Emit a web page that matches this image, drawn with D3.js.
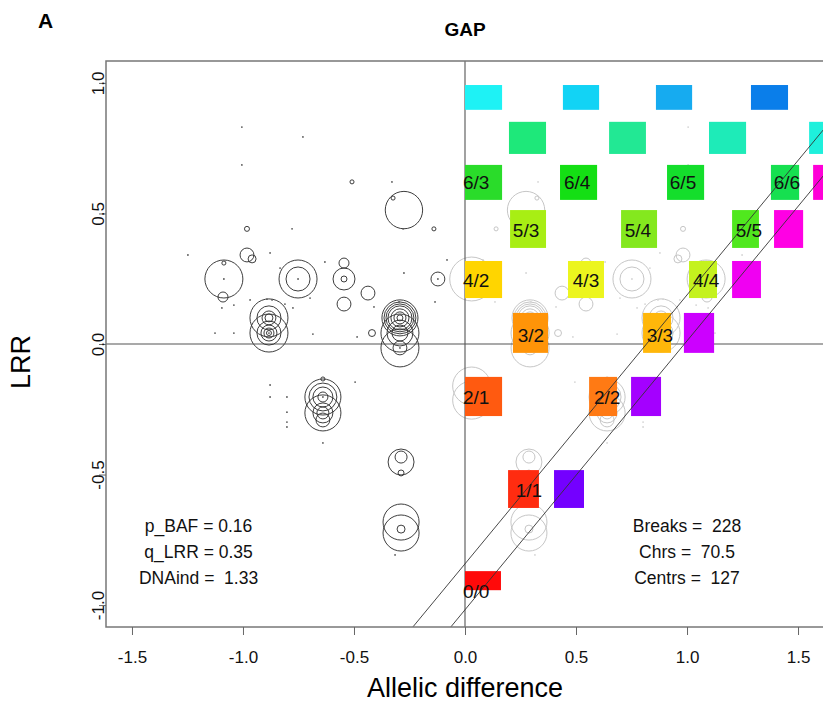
<!DOCTYPE html>
<html>
<head>
<meta charset="utf-8">
<script src="https://cdn.jsdelivr.net/npm/d3@7"></script>
<style>
  html, body { margin: 0; padding: 0; background: #fff; }
  svg { display: block; font-family: "Liberation Sans", Arial, sans-serif; }
  text { white-space: pre; }
</style>
</head>
<body>
<svg id="chart" width="823" height="702"></svg>
<script>
// Segments: [allelic difference, LRR, segment length (Mb)]
const segments = [
  [-1.005, 0.831, 0.4], [-0.730, 0.793, 0.4], [-1.005, 0.686, 0.4],
  [-0.509, 0.621, 1.7], [-0.329, 0.621, 0.4], [-0.324, 0.559, 1.7],
  [-0.275, 0.513, 145], [-0.279, 0.441, 0.4], [-0.140, 0.441, 1.7],
  [-0.982, 0.441, 2.6], [-0.779, 0.441, 0.4],
  [-0.982, 0.341, 20], [-0.959, 0.326, 6.6], [-1.248, 0.341, 0.4],
  [-0.878, 0.349, 0.4], [-1.086, 0.310, 1.7],
  [-1.086, 0.249, 150], [-1.086, 0.249, 0.4], [-1.090, 0.180, 10.4],
  [-0.752, 0.249, 150], [-0.752, 0.249, 60], [-0.752, 0.249, 0.6],
  [-0.545, 0.310, 10.4], [-0.545, 0.249, 50], [-0.545, 0.249, 3.7],
  [-0.437, 0.195, 20], [-0.545, 0.153, 20],
  [-0.122, 0.249, 20], [-0.122, 0.249, 0.4],
  [-0.883, 0.100, 150], [-0.883, 0.100, 60], [-0.883, 0.100, 20], [-0.883, 0.100, 6.6],
  [-0.883, 0.042, 150], [-0.883, 0.042, 60], [-0.883, 0.042, 26.6], [-0.883, 0.042, 10.4],
  [-0.883, 0.042, 2.6], [-0.883, 0.042, 0.8],
  [-1.041, 0.042, 0.6], [-1.126, 0.042, 0.4], [-0.685, 0.038, 0.4],
  [-0.293, 0.100, 135], [-0.293, 0.100, 106], [-0.293, 0.100, 81], [-0.293, 0.100, 60],
  [-0.293, 0.100, 34], [-0.293, 0.100, 15], [-0.293, 0.100, 3.7],
  [-0.293, 0.042, 150], [-0.293, 0.042, 70], [-0.293, 0.042, 26.6],
  [-0.293, -0.015, 150], [-0.293, -0.015, 20], [-0.293, -0.015, 0.6],
  [-0.419, 0.042, 5], [-0.486, 0.027, 0.4],
  [-0.297, 0.161, 0.4], [-0.135, 0.161, 0.4], [-0.275, 0.272, 0.4], [-0.081, 0.322, 0.4],
  [-0.968, 0.169, 0.6], [-0.892, 0.172, 0.4], [-0.869, 0.169, 0.4], [-0.811, 0.153, 0.4],
  [-0.775, 0.138, 0.4], [-0.698, 0.176, 0.4], [-1.095, 0.138, 0.4], [-1.041, 0.149, 0.4],
  [-0.410, 0.142, 0.4], [-0.631, 0.314, 0.4], [-0.833, 0.291, 0.4],
  [-0.878, -0.157, 0.4], [-0.640, -0.134, 1.7], [-0.495, -0.146, 0.4],
  [-0.878, -0.203, 0.4], [-0.802, -0.203, 0.4],
  [-0.640, -0.203, 135], [-0.640, -0.203, 81], [-0.640, -0.203, 41.5],
  [-0.640, -0.203, 10.4], [-0.640, -0.203, 0.6],
  [-0.640, -0.264, 135], [-0.640, -0.264, 41.5], [-0.640, -0.264, 15],
  [-0.640, -0.291, 20],
  [-0.802, -0.261, 0.6], [-0.802, -0.299, 0.4], [-0.802, -0.318, 0.4], [-0.640, -0.379, 0.4],
  [-0.288, -0.452, 70], [-0.288, -0.433, 15], [-0.288, -0.494, 3.7],
  [-0.288, -0.682, 135], [-0.288, -0.724, 135], [-0.288, -0.709, 6.6],
  [-0.315, -0.808, 0.4]
];

// Balanced segments that sit on the zero line (grey only)
const nearZeroSegments = [
  [0.03, -0.161, 150], [0.03, -0.215, 150], [0.03, 0.249, 200]
];

// Copy-number states: label, allelic-difference span, LRR span, colour
const stateNames = [
  "", "", "", "",
  "", "", "", "",
  "6/3", "6/4", "6/5", "6/6", "",
  "5/3", "5/4", "5/5", "",
  "4/2", "4/3", "4/4", "",
  "3/2", "3/3", "",
  "2/1", "2/2", "",
  "1/1", "",
  "0/0"
];
const stateADlo = [
  0, 0.441, 0.860, 1.288,
  0.198, 0.649, 1.099, 1.550,
  0, 0.428, 0.910, 1.378, 1.568,
  0.203, 0.703, 1.203, 1.392,
  0, 0.464, 1.009, 1.203,
  0.216, 0.802, 0.986,
  0, 0.559, 0.748,
  0.194, 0.401,
  0
];
const stateADhi = [
  0.167, 0.604, 1.023, 1.455,
  0.365, 0.815, 1.266, 1.717,
  0.167, 0.595, 1.077, 1.505, 1.700,
  0.365, 0.865, 1.324, 1.523,
  0.167, 0.626, 1.135, 1.333,
  0.374, 0.928, 1.122,
  0.167, 0.685, 0.883,
  0.333, 0.536,
  0.162
];
const stateLRRlo = [
  0.897, 0.897, 0.897, 0.897,
  0.728, 0.728, 0.728, 0.728,
  0.552, 0.552, 0.552, 0.552, 0.552,
  0.368, 0.368, 0.368, 0.368,
  0.176, 0.176, 0.176, 0.176,
  -0.034, -0.034, -0.034,
  -0.276, -0.276, -0.276,
  -0.628, -0.628,
  -0.943
];
const stateLRRhi = [
  0.992, 0.992, 0.992, 0.992,
  0.851, 0.851, 0.851, 0.851,
  0.686, 0.686, 0.686, 0.686, 0.686,
  0.513, 0.513, 0.513, 0.513,
  0.318, 0.318, 0.318, 0.318,
  0.119, 0.119, 0.119,
  -0.126, -0.126, -0.126,
  -0.483, -0.483,
  -0.870
];
const stateColors = [
  "#1ef2f5", "#12d3f5", "#16abf0", "#0a7eea",
  "#1ee87a", "#22e894", "#1eebb8", "#1ef0dc",
  "#2adc2a", "#14df14", "#14de2c", "#16e050", "#ff00d8",
  "#a8ee14", "#84e81e", "#50e81e", "#ff00e4",
  "#ffd500", "#ecf51e", "#c4f21e", "#f000f2",
  "#ff9408", "#ffb70a", "#cc00ff",
  "#ff5a10", "#ff7a14", "#a400ff",
  "#ff2c10", "#7400ff",
  "#ff0a0a"
];
// Label anchor of each labelled state
const labelNames = ["6/3", "6/4", "6/5", "6/6", "5/3", "5/4", "5/5", "4/2", "4/3", "4/4",
                    "3/2", "3/3", "2/1", "2/2", "1/1", "0/0"];
const labelAD  = [0.050, 0.505, 0.982, 1.450, 0.275, 0.779, 1.279, 0.050, 0.545, 1.086,
                  0.297, 0.878, 0.050, 0.640, 0.288, 0.050];
const labelLRR = [0.621, 0.621, 0.621, 0.621, 0.437, 0.437, 0.437, 0.245, 0.245, 0.245,
                  0.034, 0.034, -0.203, -0.203, -0.559, -0.946];

// Reference lines (slope, intercept)
const refLines = [[1.03, -0.842], [1.03, -1.018]];

const xTicks = [-1.5, -1.0, -0.5, 0.0, 0.5, 1.0, 1.5];
const yTicks = [-1.0, -0.5, 0.0, 0.5, 1.0];

const statsLeft = ["p_BAF = 0.16", "q_LRR = 0.35", "DNAind =  1.33"];
const statsRight = ["Breaks =  228", "Chrs =  70.5", "Centrs =  127"];

// ---------------------------------------------------------------
const svg = d3.select("#chart");
const box = { left: 106, right: 824, top: 61, bottom: 627 };

const x = d3.scaleLinear().domain([-1.617, 1.617]).range([box.left, box.right]);
const y = d3.scaleLinear().domain([-1.084, 1.084]).range([box.bottom, box.top]);
const r = d3.scaleSqrt().domain([0, 150]).range([0, 19]);

svg.append("defs").append("clipPath").attr("id", "plotClip")
  .append("rect")
  .attr("x", box.left).attr("y", box.top)
  .attr("width", box.right - box.left).attr("height", box.bottom - box.top);

const plot = svg.append("g").attr("clip-path", "url(#plotClip)");

// Mirrored (grey) segments on the positive side
const greySegs = segments.map(d => [-d[0], d[1], d[2]]).concat(nearZeroSegments);
function drawSegs(data, stroke, dotFill, width) {
  plot.append("g").selectAll("circle")
    .data(data)
    .join("circle")
    .attr("cx", d => x(d[0]))
    .attr("cy", d => y(d[1]))
    .attr("r", d => d[2] < 1 ? 0.9 : r(d[2]))
    .attr("fill", d => d[2] < 1 ? dotFill : "none")
    .attr("stroke", d => d[2] < 1 ? "none" : stroke)
    .attr("stroke-width", width);
}
drawSegs(greySegs, "#c6c6c6", "#d4d4d4", 1);

// Zero lines
plot.append("line")
  .attr("x1", x(0)).attr("x2", x(0)).attr("y1", box.top).attr("y2", box.bottom)
  .attr("stroke", "#555").attr("stroke-width", 1.1);
plot.append("line")
  .attr("x1", box.left).attr("x2", box.right).attr("y1", y(0)).attr("y2", y(0))
  .attr("stroke", "#555").attr("stroke-width", 1.1);

// Copy-number state rectangles
plot.append("g").selectAll("rect")
  .data(stateNames.map((n, i) => i))
  .join("rect")
  .attr("x", i => x(stateADlo[i]))
  .attr("y", i => y(stateLRRhi[i]))
  .attr("width", i => x(stateADhi[i]) - x(stateADlo[i]))
  .attr("height", i => y(stateLRRlo[i]) - y(stateLRRhi[i]))
  .attr("fill", i => stateColors[i]);

// Diagonal reference lines
const [xa, xb] = x.domain();
plot.append("g").selectAll("line")
  .data(refLines)
  .join("line")
  .attr("x1", x(xa)).attr("y1", d => y(d[0] * xa + d[1]))
  .attr("x2", x(xb)).attr("y2", d => y(d[0] * xb + d[1]))
  .attr("stroke", "#333").attr("stroke-width", 0.9);

// Observed segments (black)
drawSegs(segments, "#333", "#555", 0.95);

// State labels
plot.append("g").selectAll("text")
  .data(labelNames.map((n, i) => i))
  .join("text")
  .attr("x", i => x(labelAD[i]))
  .attr("y", i => y(labelLRR[i]))
  .attr("dy", "0.36em")
  .attr("text-anchor", "middle")
  .attr("font-size", 19)
  .attr("fill", "#111")
  .text(i => labelNames[i]);

// Plot frame
svg.append("rect")
  .attr("x", box.left).attr("y", box.top)
  .attr("width", box.right - box.left).attr("height", box.bottom - box.top)
  .attr("fill", "none").attr("stroke", "#777").attr("stroke-width", 1.5);

// Axes
const xAxis = svg.append("g")
  .attr("transform", `translate(0,${box.bottom})`)
  .call(d3.axisBottom(x).tickValues(xTicks).tickSize(8).tickPadding(16)
    .tickFormat(d => d.toFixed(1)));
xAxis.select(".domain").remove();
xAxis.selectAll("line").attr("stroke", "#666");
xAxis.selectAll("text").attr("font-size", 17).attr("font-family", "Liberation Sans, Arial, sans-serif").attr("fill", "#111");

const yAxis = svg.append("g")
  .attr("transform", `translate(${box.left},0)`)
  .call(d3.axisLeft(y).tickValues(yTicks).tickSize(7).tickFormat(d => d.toFixed(1)));
yAxis.select(".domain").remove();
yAxis.selectAll("line").attr("stroke", "#666");
yAxis.selectAll("text")
  .attr("x", null).attr("dy", null)
  .attr("text-anchor", "middle")
  .attr("transform", "translate(-2,0) rotate(-90)")
  .attr("font-size", 17).attr("font-family", "Liberation Sans, Arial, sans-serif").attr("fill", "#111");

// Axis titles
svg.append("text")
  .attr("x", x(0)).attr("y", 697)
  .attr("text-anchor", "middle")
  .attr("font-family", "'Liberation Sans Narrow', 'Arial Narrow', Arial, sans-serif")
  .attr("font-size", 27)
  .text("Allelic difference");
svg.append("text")
  .attr("transform", `translate(30,${y(-0.069)}) rotate(-90)`)
  .attr("text-anchor", "middle")
  .attr("font-family", "'Liberation Sans Narrow', 'Arial Narrow', Arial, sans-serif")
  .attr("font-size", 27)
  .text("LRR");

// Title and panel letter
svg.append("text")
  .attr("x", x(0)).attr("y", 36)
  .attr("text-anchor", "middle")
  .attr("font-weight", "bold").attr("font-size", 19)
  .text("GAP");
svg.append("text")
  .attr("x", 38).attr("y", 28)
  .attr("font-weight", "bold").attr("font-size", 21)
  .text("A");

// Summary statistics
function stats(list, ad) {
  svg.append("g").selectAll("text")
    .data(list)
    .join("text")
    .attr("x", x(ad))
    .attr("y", (d, i) => y(-0.72) + i * 26)
    .attr("text-anchor", "middle")
    .attr("font-size", 17.5)
    .attr("fill", "#111")
    .attr("xml:space", "preserve")
    .text(d => d);
}
stats(statsLeft, -1.2);
stats(statsRight, 1.0);
</script>
</body>
</html>
